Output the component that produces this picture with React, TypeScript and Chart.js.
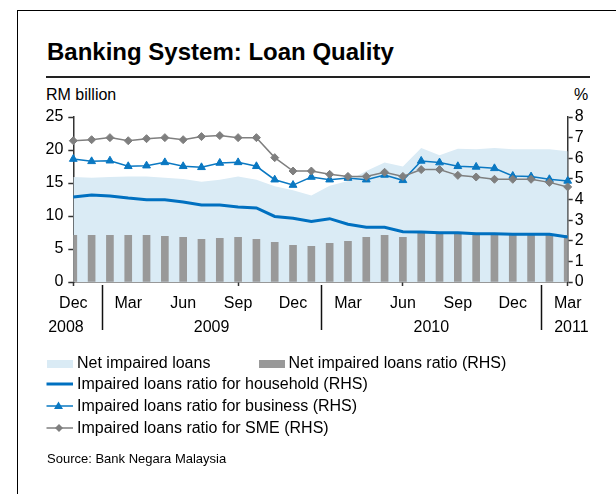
import React, { useEffect, useRef } from 'react';
import { Chart, registerables } from 'chart.js';
Chart.register(...registerables);

const categories = [
  'Dec 2008', 'Jan 2009', 'Feb 2009', 'Mar 2009', 'Apr 2009', 'May 2009', 'Jun 2009',
  'Jul 2009', 'Aug 2009', 'Sep 2009', 'Oct 2009', 'Nov 2009', 'Dec 2009',
  'Jan 2010', 'Feb 2010', 'Mar 2010', 'Apr 2010', 'May 2010', 'Jun 2010',
  'Jul 2010', 'Aug 2010', 'Sep 2010', 'Oct 2010', 'Nov 2010', 'Dec 2010',
  'Jan 2011', 'Feb 2011', 'Mar 2011',
];
const yearLabels = ['2008', '2009', '2010', '2011'];
const leftTicks = [0, 5, 10, 15, 20, 25];
const rightTicks = [0, 1, 2, 3, 4, 5, 6, 7, 8];

// RM billion (LHS)
const netImpairedLoans = [15.9, 15.8, 15.9, 16.0, 16.0, 15.8, 15.6, 15.2, 15.5, 16.0, 15.5, 14.5, 13.9, 13.1,
  14.6, 15.3, 16.8, 18.1, 17.5, 20.3, 19.2, 20.2, 20.1, 20.3, 20.1, 20.1, 20.1, 19.8];
// % (RHS)
const netImpairedRatio = [2.26, 2.26, 2.26, 2.26, 2.26, 2.21, 2.17, 2.07, 2.12, 2.17, 2.07, 1.92, 1.78, 1.73,
  1.87, 1.97, 2.17, 2.26, 2.17, 2.38, 2.38, 2.38, 2.34, 2.34, 2.34, 2.31, 2.31, 2.26];
const householdRatio = [4.12, 4.22, 4.17, 4.07, 3.99, 3.99, 3.88, 3.73, 3.73, 3.64, 3.59, 3.18, 3.09, 2.93,
  3.07, 2.8, 2.65, 2.65, 2.44, 2.42, 2.39, 2.39, 2.34, 2.34, 2.31, 2.31, 2.31, 2.18];
const businessRatio = [5.96, 5.85, 5.88, 5.61, 5.64, 5.8, 5.61, 5.56, 5.77, 5.8, 5.61, 4.96, 4.7, 5.09,
  4.96, 5.04, 4.96, 5.19, 4.93, 5.87, 5.79, 5.61, 5.58, 5.51, 5.14, 5.11, 4.98, 4.9];
const smeRatio = [6.85, 6.9, 7.0, 6.85, 6.95, 7.0, 6.9, 7.05, 7.1, 7.0, 7.0, 6.03, 5.38, 5.38,
  5.22, 5.12, 5.12, 5.32, 5.12, 5.45, 5.45, 5.17, 5.09, 4.98, 4.98, 4.98, 4.83, 4.61];

const FONT = '"Liberation Sans", Arial, Helvetica, sans-serif';
const AREA = '#DAEBF5';
const BAR = '#999999';
const BLUE = '#0070C0';
const BLUE2 = '#0A78C2';
const GRAY = '#7F7F7F';
const AXIS = '#333333';

const yearPlugin = {
  id: 'yearLabels',
  afterDraw(chart: any) {
    const ctx = chart.ctx;
    const x = chart.scales.x;
    const starts: number[] = [];
    categories.forEach((c, i) => {
      if (i > 0 && c.split(' ')[1] !== categories[i - 1].split(' ')[1]) starts.push(i);
    });
    const seps = starts.map((s) => s + 0.55);
    ctx.save();
    ctx.strokeStyle = '#111';
    ctx.lineWidth = 1.5;
    seps.forEach((s) => {
      const px = Math.round(x.getPixelForValue(s)) + 0.5;
      ctx.beginPath();
      ctx.moveTo(px, 285);
      ctx.lineTo(px, 330);
      ctx.stroke();
    });
    const centers = [
      -0.4,
      (seps[0] + seps[1]) / 2,
      (seps[1] + seps[2]) / 2,
      categories.length - 1 + 0.2,
    ];
    ctx.fillStyle = '#000';
    ctx.font = '16px ' + FONT;
    ctx.textAlign = 'center';
    ctx.textBaseline = 'alphabetic';
    yearLabels.forEach((y, i) => {
      ctx.fillText(y, x.getPixelForValue(centers[i]), 331.5);
    });
    ctx.restore();
  },
};

function ChartView() {
  const ref = useRef<HTMLCanvasElement | null>(null);
  useEffect(() => {
    if (!ref.current) return;
    const tickFont = { family: FONT, size: 16 };
    const chart = new Chart(ref.current, {
      type: 'bar',
      data: {
        labels: categories,
        datasets: [
          {
            type: 'line',
            label: 'Net impaired loans',
            data: netImpairedLoans,
            yAxisID: 'y',
            fill: 'origin',
            backgroundColor: AREA,
            borderWidth: 0,
            borderColor: AREA,
            pointRadius: 0,
            tension: 0,
            order: 5,
          } as any,
          {
            type: 'bar',
            label: 'Net impaired loans ratio (RHS)',
            data: netImpairedRatio,
            yAxisID: 'y1',
            backgroundColor: BAR,
            barThickness: 7,
            order: 4,
          },
          {
            type: 'line',
            label: 'Impaired loans ratio for household (RHS)',
            data: householdRatio,
            yAxisID: 'y1',
            borderColor: BLUE,
            borderWidth: 3,
            pointRadius: 0,
            tension: 0,
            fill: false,
            order: 3,
          } as any,
          {
            type: 'line',
            label: 'Impaired loans ratio for business (RHS)',
            data: businessRatio,
            yAxisID: 'y1',
            borderColor: BLUE2,
            backgroundColor: BLUE2,
            borderWidth: 1.5,
            pointStyle: 'triangle',
            pointRadius: 4.5,
            pointBorderWidth: 1,
            tension: 0,
            fill: false,
            order: 2,
          } as any,
          {
            type: 'line',
            label: 'Impaired loans ratio for SME (RHS)',
            data: smeRatio,
            yAxisID: 'y1',
            borderColor: GRAY,
            backgroundColor: GRAY,
            borderWidth: 1.5,
            pointStyle: 'rectRot',
            pointRadius: 4,
            pointBorderWidth: 1,
            tension: 0,
            fill: false,
            order: 1,
          } as any,
        ],
      },
      options: {
        responsive: false,
        animation: false,
        devicePixelRatio: 1,
        layout: { padding: { top: 117, bottom: 182, left: 0, right: 0 } },
        plugins: { legend: { display: false }, tooltip: { enabled: false }, title: { display: false } },
        scales: {
          x: {
            type: 'category',
            offset: false,
            grid: {
              offset: false,
              drawOnChartArea: false,
              drawTicks: true,
              tickLength: 4,
              tickWidth: 1.5,
              tickColor: (c: any) => (c.index % 3 === 0 ? AXIS : 'rgba(0,0,0,0)'),
            },
            border: { color: AXIS, width: 1.5 },
            ticks: {
              autoSkip: false,
              maxRotation: 0,
              minRotation: 0,
              padding: 8,
              color: '#000',
              font: tickFont,
              callback: (_v: any, i: number) => (i % 3 === 0 ? categories[i].split(' ')[0] : null),
            },
            afterFit: (s: any) => { s.height = 30; },
          },
          y: {
            type: 'linear',
            position: 'left',
            min: leftTicks[0],
            max: leftTicks[leftTicks.length - 1],
            afterBuildTicks: (s: any) => { s.ticks = leftTicks.map((v) => ({ value: v })); },
            grid: { drawOnChartArea: false, tickLength: 5, tickColor: AXIS, tickWidth: 1.5 },
            border: { color: AXIS, width: 1.5 },
            ticks: { autoSkip: false, padding: 5, color: '#000', font: tickFont },
            afterFit: (s: any) => { s.width = 73.3; },
          },
          y1: {
            type: 'linear',
            position: 'right',
            min: rightTicks[0],
            max: rightTicks[rightTicks.length - 1],
            afterBuildTicks: (s: any) => { s.ticks = rightTicks.map((v) => ({ value: v })); },
            grid: { drawOnChartArea: false, tickLength: 5, tickColor: AXIS, tickWidth: 1.5 },
            border: { color: AXIS, width: 1.5 },
            ticks: { autoSkip: false, padding: 2, color: '#000', font: tickFont },
            afterFit: (s: any) => { s.width = 48.3; },
          },
        },
      } as any,
      plugins: [yearPlugin],
    });
    return () => chart.destroy();
  }, []);
  return <canvas ref={ref} width={616} height={494} style={{ position: 'absolute', left: 0, top: 0, width: 616, height: 494 }} />;
}

function Text({ x, base, size, bold, children }: any) {
  return (
    <div style={{
      position: 'absolute', left: x, top: base - 0.8465 * size, fontSize: size, lineHeight: 1,
      fontWeight: bold ? 'bold' : 'normal', fontFamily: FONT, color: '#000', whiteSpace: 'nowrap',
    }}>{children}</div>
  );
}

function LineSwatch({ y, color, width, marker }: any) {
  return (
    <svg style={{ position: 'absolute', left: 46, top: y - 8, overflow: 'visible' }} width={28} height={16}>
      <line x1={0.5} y1={8} x2={27} y2={8} stroke={color} strokeWidth={width} />
      {marker === 'triangle' && <polygon points="12.5,3.5 17,11 8,11" fill={color} />}
      {marker === 'diamond' && <polygon points="13,4 17,8 13,12 9,8" fill={color} />}
    </svg>
  );
}

export default function App() {
  return (
    <div style={{ position: 'fixed', left: 0, top: 0, width: 616, height: 494, background: '#fff', overflow: 'hidden' }}>
      <div style={{ position: 'absolute', left: 17, top: 10, width: 620, height: 1, background: '#000' }} />
      <div style={{ position: 'absolute', left: 17, top: 10, width: 1, height: 500, background: '#000' }} />
      <Text x={47} base={60} size={24} bold>Banking System: Loan Quality</Text>
      <div style={{ position: 'absolute', left: 46, top: 76, width: 544, height: 1.5, background: '#222' }} />
      <Text x={46} base={100.7} size={16}>RM billion</Text>
      <Text x={574} base={100.7} size={16}>%</Text>
      <ChartView />
      <div style={{ position: 'absolute', left: 47, top: 359.5, width: 26, height: 8.5, background: AREA }} />
      <Text x={77} base={368.3} size={16}>Net impaired loans</Text>
      <div style={{ position: 'absolute', left: 258.5, top: 359.5, width: 26.5, height: 8.5, background: BAR }} />
      <Text x={288.5} base={368.3} size={16}>Net impaired loans ratio (RHS)</Text>
      <LineSwatch y={384.3} color={BLUE} width={3} />
      <Text x={77} base={390} size={16}>Impaired loans ratio for household (RHS)</Text>
      <LineSwatch y={405.7} color={BLUE2} width={1.5} marker="triangle" />
      <Text x={77} base={411.7} size={16}>Impaired loans ratio for business (RHS)</Text>
      <LineSwatch y={428.3} color={GRAY} width={1.5} marker="diamond" />
      <Text x={77} base={433.3} size={16}>Impaired loans ratio for SME (RHS)</Text>
      <Text x={47} base={463.3} size={13}>Source: Bank Negara Malaysia</Text>
    </div>
  );
}
